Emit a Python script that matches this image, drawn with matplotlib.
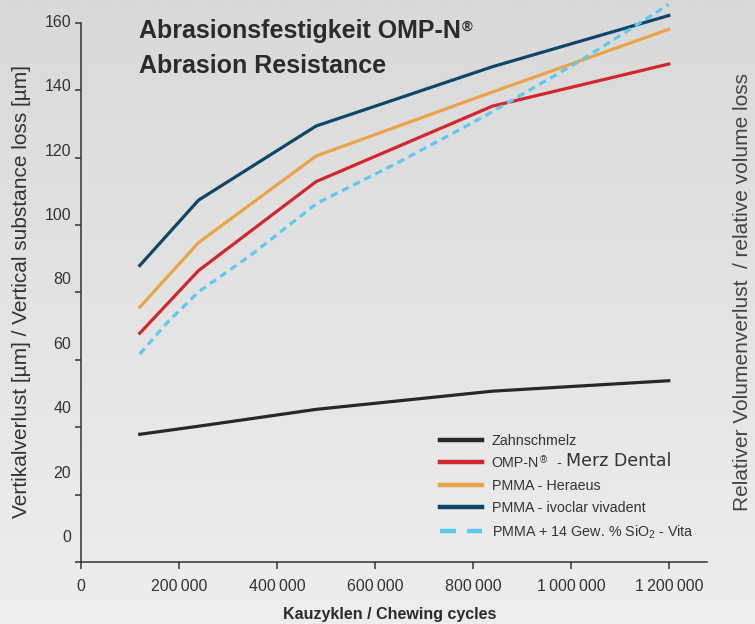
import matplotlib
matplotlib.use("Agg")
import matplotlib.pyplot as plt
import numpy as np
from matplotlib.lines import Line2D
from matplotlib.colors import LinearSegmentedColormap

# data
cycles = [120000, 240000, 480000, 840000, 1200000]
zahnschmelz = [37.9, 40.3, 45.3, 50.7, 53.8]
omp_n = [67.9, 86.5, 112.9, 135.3, 147.8]
pmma_heraeus = [75.6, 94.8, 120.5, 139.5, 158.1]
pmma_ivoclar = [88.0, 107.4, 129.4, 147.0, 162.2]
cycles_vita = [120000, 175000, 240000, 346000, 482000, 640000, 820000, 1022000, 1200000]
pmma_vita = [61.7, 70.9, 80.2, 91.0, 106.5, 118.0, 132.0, 149.0, 165.5]

x_ticks = [0, 200000, 400000, 600000, 800000, 1000000, 1200000]
x_ticklabels = ["0", "200\u2009000", "400\u2009000", "600\u2009000", "800\u2009000",
                "1\u2009000\u2009000", "1\u2009200\u2009000"]
y_ticks = [0, 20, 40, 60, 80, 100, 120, 140, 160]

legend_labels = ["Zahnschmelz", "OMP-N", "PMMA - Heraeus", "PMMA - ivoclar vivadent",
                 "PMMA + 14 Gew. % SiO$_2$ - Vita"]
colors = ["#272727", "#d2262c", "#eaa445", "#0c4669", "#5cc9f1"]

plt.rcParams["font.family"] = ["Liberation Sans", "DejaVu Sans"]
plt.rcParams["mathtext.fontset"] = "custom"
plt.rcParams["mathtext.rm"] = "Liberation Sans"
plt.rcParams["mathtext.it"] = "Liberation Sans:italic"

W, H = 755, 624
fig = plt.figure(figsize=(W / 100, H / 100), dpi=100)

# light grey gradient background
bg = fig.add_axes([0, 0, 1, 1], zorder=-10)
grad = np.linspace(0, 1, 256).reshape(-1, 1)
cmap = LinearSegmentedColormap.from_list("bg", ["#d9d9d9", "#eeeeee"])
bg.imshow(grad, aspect="auto", cmap=cmap, extent=[0, 1, 0, 1], origin="upper")
bg.axis("off")

ax = fig.add_axes([81 / W, 62 / H, 626 / W, 562 / H])
ax.patch.set_alpha(0)

lw = 2.3
ax.plot(cycles, zahnschmelz, color=colors[0], lw=lw)
ax.plot(cycles, omp_n, color=colors[1], lw=lw)
ax.plot(cycles, pmma_heraeus, color=colors[2], lw=lw)
ax.plot(cycles, pmma_ivoclar, color=colors[3], lw=lw)
ax.plot(cycles_vita, pmma_vita, color=colors[4], lw=lw, dashes=(2.3, 1.6))

ax.set_xlim(0, 1.278e6)
ax.set_ylim(0, 166.8)
for s in ["top", "right"]:
    ax.spines[s].set_visible(False)
ax.spines["left"].set_bounds(0, 160)
for s in ["left", "bottom"]:
    ax.spines[s].set_color("#333333")
    ax.spines[s].set_linewidth(1.1)

ax.set_xticks(x_ticks)
ax.set_xticklabels(x_ticklabels)
ax.tick_params(axis="x", length=5, width=1.1, color="#333333", pad=7,
               labelsize=11.5, labelcolor="#333333")
ax.set_yticks(y_ticks)
ax.set_yticklabels([])
ax.tick_params(axis="y", length=4, width=1.1, color="#333333")

# y tick labels sit on their own (slightly compressed) scale, as in the original
lab = ax.twinx()
lab.set_ylim(-8.08, 166.5)
lab.yaxis.tick_left()
lab.set_yticks(y_ticks)
lab.tick_params(axis="y", length=0, pad=7.0, labelsize=11.5, labelcolor="#333333")
for s in lab.spines.values():
    s.set_visible(False)

# legend
handles = []
for i, c in enumerate(colors):
    if i == 4:
        handles.append(Line2D([], [], color=c, lw=3.2, dashes=(3.6, 2.5)))
    else:
        handles.append(Line2D([], [], color=c, lw=3.2))
leg = ax.legend(handles, legend_labels, loc="upper left",
                bbox_to_anchor=(440 / W, 1 - 434 / H), bbox_transform=fig.transFigure,
                frameon=False, fontsize=10.3, handlelength=2.95, handletextpad=0.65,
                labelspacing=0.58, borderpad=0, borderaxespad=0)
for t in leg.get_texts():
    t.set_color("#333333")
t_omp = leg.get_texts()[1]
ax.annotate("\u00ae", xy=(1, 1), xycoords=t_omp, xytext=(0.6, 0.8),
            textcoords="offset points", fontsize=7, va="top", ha="left",
            color="#333333", zorder=6)
dash = ax.annotate("-", xy=(1, 0), xycoords=t_omp, xytext=(13.0, 0),
                   textcoords="offset points", fontsize=10.3, va="bottom", ha="left",
                   color="#333333", zorder=6)
ax.annotate("Merz Dental", xy=(1, 0), xycoords=dash, xytext=(3.0, 0),
            textcoords="offset points", fontsize=12.5, va="bottom", ha="left",
            family="DejaVu Sans", color="#333333", zorder=6)

# titles and axis labels
t1 = fig.text(139 / W, 1 - 37.7 / H, "Abrasionsfestigkeit OMP-N", fontsize=18,
              fontweight="bold", color="#2b2b2b", va="baseline", ha="left")
fig.text(139 / W, 1 - 72.7 / H, "Abrasion Resistance", fontsize=18,
         fontweight="bold", color="#2b2b2b", va="baseline", ha="left")
ax.annotate("\u00ae", xy=(1, 1), xycoords=t1, xytext=(0.3, -0.5),
            textcoords="offset points", fontsize=10.5, fontweight="bold",
            color="#2b2b2b", va="top", ha="left", annotation_clip=False)

fig.text(22 / W, 1 - 291 / H, "Vertikalverlust [µm] / Vertical substance loss [µm]",
         rotation=90, fontsize=15, color="#333333", ha="center", va="center")
fig.text(743 / W, 1 - 292 / H, "Relativer Volumenverlust  / relative volume loss",
         rotation=90, fontsize=15, color="#444444", ha="center", va="center")
fig.text(390 / W, 1 - 615 / H, "Kauzyklen / Chewing cycles", fontsize=11.5,
         fontweight="bold", color="#2b2b2b", ha="center", va="center")

fig.savefig("out.png", dpi=100)
